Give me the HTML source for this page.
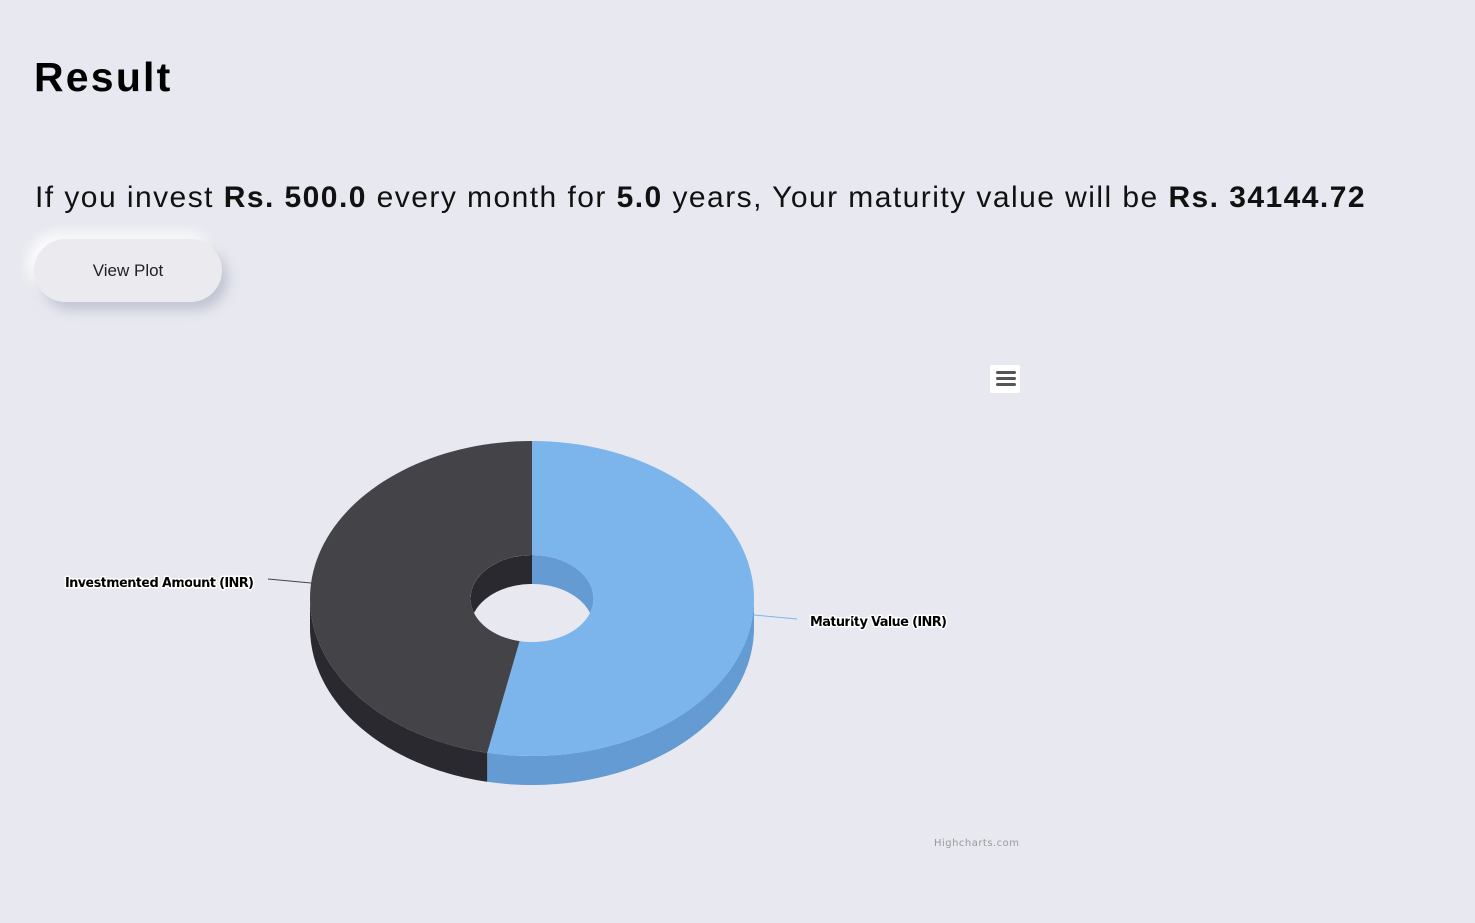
<!DOCTYPE html>
<html><head><meta charset="utf-8"><style>
html,body{margin:0;padding:0;}
body{width:1475px;height:923px;background:#e8e9f0;position:relative;overflow:hidden;font-family:"Liberation Sans",sans-serif;}
h1{position:absolute;left:34px;top:54px;margin:0;font-size:41px;font-weight:bold;color:#000;letter-spacing:2.2px;}
.sent{position:absolute;left:35px;top:181px;font-size:30px;color:#111;white-space:nowrap;letter-spacing:1.45px;}
.btn{position:absolute;left:34px;top:239px;width:188px;height:63px;border-radius:32px;background:#ebebef;box-shadow:6px 8px 12px rgba(160,165,185,0.55),-6px -6px 12px rgba(255,255,255,0.9);font-size:17px;color:#222;display:flex;align-items:center;justify-content:center;}
svg{position:absolute;left:0;top:0;}
</style></head><body>
<h1>Result</h1>
<div class="sent">If you invest <b>Rs. 500.0</b> every month for <b>5.0</b> years, Your maturity value will be <b>Rs. 34144.72</b></div>
<div class="btn">View Plot</div>
<svg id="chart" width="1475" height="923">
<defs><clipPath id="holeClip"><ellipse cx="532" cy="598.5" rx="61.5" ry="43.5"/></clipPath></defs>
<g id="sides"></g><g id="tops"></g><g id="inner" clip-path="url(#holeClip)"></g>
<g>
<rect x="990" y="365" width="30" height="28" rx="2" fill="#fff"/>
<rect x="996" y="371" width="20" height="3" rx="1.5" fill="#555"/>
<rect x="996" y="377" width="20" height="3" rx="1.5" fill="#555"/>
<rect x="996" y="383" width="20" height="3" rx="1.5" fill="#555"/>
</g>
<path d="M268 579 L311 583" stroke="#434348" stroke-width="1"/>
<path d="M754 615 L797 619" stroke="#7cb5ec" stroke-width="1"/>
<g font-family="'DejaVu Sans',sans-serif" font-weight="bold" font-size="13" fill="#000" stroke="#fff" stroke-width="3" paint-order="stroke" stroke-linejoin="round">
<text x="254" y="587" text-anchor="end" textLength="189">Investmented Amount (INR)</text>
<text x="810" y="626" textLength="137">Maturity Value (INR)</text>
</g>
<text x="1019" y="846" text-anchor="end" font-family="'DejaVu Sans',sans-serif" font-size="10" fill="#999" textLength="85">Highcharts.com</text>
</svg>
<script>
const categories=["Maturity Value (INR)","Investmented Amount (INR)"];
const values=[34144.72,30000];
const topColors=["#7cb5ec","#434348"];
const sideColors=["#639bd2","#2a292f"];
const cx=532,cy=598.5,rx=222,ry=157.5,irx=61.5,iry=43.5,depth=29;
const NS="http://www.w3.org/2000/svg";
function pt(a,ex,ey,dy){return [cx+ex*Math.sin(a),cy-ey*Math.cos(a)+(dy||0)];}
function arc(a1,a2,ex,ey,dy){const n=80,p=[];for(let i=0;i<=n;i++){const a=a1+(a2-a1)*i/n;p.push(pt(a,ex,ey,dy));}return p;}
function mk(g,pts,fill,name){const e=document.createElementNS(NS,"path");
e.setAttribute("d","M"+pts.map(p=>p[0].toFixed(2)+" "+p[1].toFixed(2)).join(" L")+" Z");
e.setAttribute("fill",fill);


document.getElementById(g).appendChild(e);}
const total=values.reduce((a,b)=>a+b,0);
let start=0;const slices=[];
values.forEach((v,i)=>{const end=start+v/total*2*Math.PI;slices.push([start,end]);start=end;});
const H=Math.PI/2;
slices.forEach(([a1,a2],i)=>{
  const s=Math.max(a1,H),e=Math.min(a2,3*H);
  if(e>s){mk("sides",arc(s,e,rx,ry,0).concat(arc(e,s,rx,ry,depth)),sideColors[i],"outer-wall-"+i);}
  mk("tops",arc(a1,a2,rx,ry,0).concat(arc(a2,a1,irx,iry,0)),topColors[i],"slice-"+(i===0?"maturity":"invested"));
  [[-H,H],[3*H,5*H]].forEach(([b1,b2])=>{const s2=Math.max(a1,b1),e2=Math.min(a2,b2);
    if(e2>s2)mk("inner",arc(s2,e2,irx,iry,0).concat(arc(e2,s2,irx,iry,depth)),sideColors[i],"inner-wall-"+i);});
});
</script>
</body></html>
